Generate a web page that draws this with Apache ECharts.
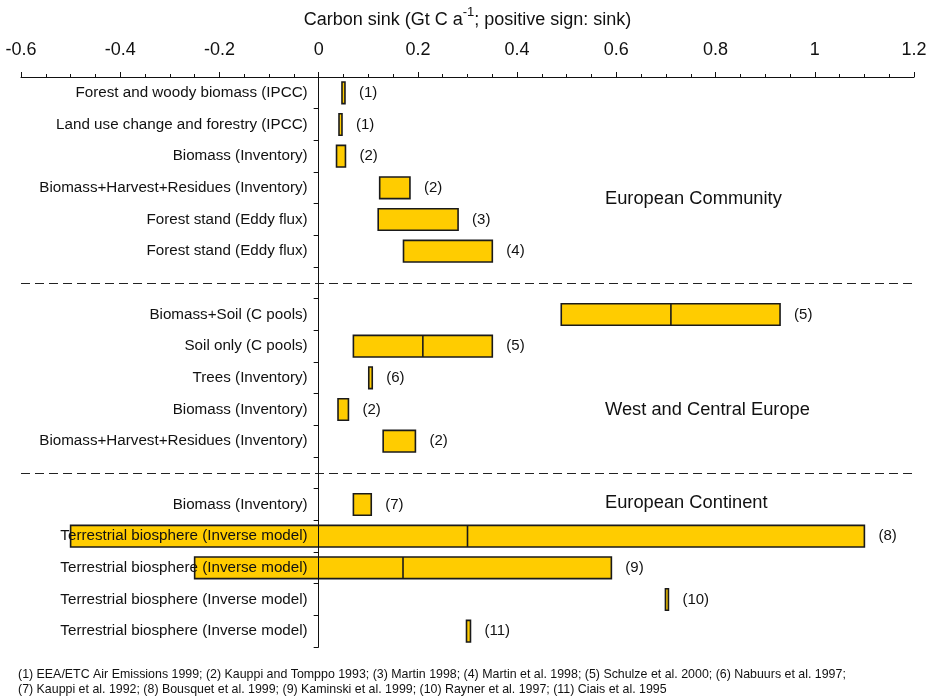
<!DOCTYPE html>
<html lang="en">
<head>
    <meta charset="UTF-8">
    <title>Carbon sink</title>
    <script src="https://cdn.jsdelivr.net/npm/echarts@6/dist/echarts.min.js"></script>
</head>
<body style="margin:0;background:#fff">
 <div id="myChart" style="width: 933px;height: 696px;"></div>
 <script>
     var FONT = '"Liberation Sans", Arial, Helvetica, sans-serif';

     // rows from top to bottom, '' = spacer row holding a dashed separator
     var categories = [
         'Forest and woody biomass (IPCC)',
         'Land use change and forestry (IPCC)',
         'Biomass (Inventory)',
         'Biomass+Harvest+Residues (Inventory)',
         'Forest stand (Eddy flux)',
         'Forest stand (Eddy flux)',
         '',
         'Biomass+Soil (C pools)',
         'Soil only (C pools)',
         'Trees (Inventory)',
         'Biomass (Inventory)',
         'Biomass+Harvest+Residues (Inventory)',
         '',
         'Biomass (Inventory)',
         'Terrestrial biosphere (Inverse model)',
         'Terrestrial biosphere (Inverse model)',
         'Terrestrial biosphere (Inverse model)',
         'Terrestrial biosphere (Inverse model)'
     ];
     // range low / high / central value (Gt C per year), null = none
     var lows  = [0.047, 0.041, 0.036, 0.123, 0.120, 0.171, null, 0.489, 0.070, 0.101, 0.039, 0.130, null, 0.070, -0.50, -0.25, 0.699, 0.298];
     var highs = [0.053, 0.047, 0.054, 0.184, 0.281, 0.350, null, 0.930, 0.350, 0.108, 0.060, 0.195, null, 0.106, 1.10, 0.59, 0.705, 0.306];
     var mids  = [null, null, null, null, null, null, null, 0.71, 0.21, null, null, null, null, null, 0.30, 0.17, null, null];
     var refs  = ['(1)', '(1)', '(2)', '(2)', '(3)', '(4)', '', '(5)', '(5)', '(6)', '(2)', '(2)', '', '(7)', '(8)', '(9)', '(10)', '(11)'];
     var separators = [6, 12]; // spacer row indices
     var regions = ['European Community', 'West and Central Europe', 'European Continent'];
     var footnote = [
         '(1) EEA/ETC Air Emissions 1999; (2) Kauppi and Tomppo 1993; (3) Martin 1998; (4) Martin et al. 1998; (5) Schulze et al. 2000; (6) Nabuurs et al. 1997;',
         '(7) Kauppi et al. 1992; (8) Bousquet et al. 1999; (9) Kaminski et al. 1999; (10) Rayner et al. 1997; (11) Ciais et al. 1995'
     ];

     var data = [];
     for (var i = 0; i < categories.length; i++) {
         if (lows[i] === null) continue;
         data.push([i, lows[i], highs[i], mids[i] === null ? '-' : mids[i]]);
     }

     var GRID_W = 893, X_MIN = -0.6, X_MAX = 1.2;

     function renderItem(params, api) {
         var row = api.value(0);
         var lo = api.coord([api.value(1), row]);
         var hi = api.coord([api.value(2), row]);
         var h = api.size([0, 1])[1] * 0.68;
         var kids = [{
             type: 'rect',
             shape: {x: lo[0], y: lo[1] - h / 2, width: hi[0] - lo[0], height: h},
             style: {fill: '#ffcc00', stroke: '#1a1a1a', lineWidth: 1.6}
         }];
         var mid = api.value(3);
         if (!isNaN(mid)) {
             var m = api.coord([mid, row]);
             kids.push({
                 type: 'line',
                 shape: {x1: m[0], y1: lo[1] - h / 2, x2: m[0], y2: lo[1] + h / 2},
                 style: {stroke: '#1a1a1a', lineWidth: 1.6}
             });
         }
         kids.push({
             type: 'text',
             style: {
                 text: refs[row], x: hi[0] + 14, y: lo[1],
                 verticalAlign: 'middle', fontSize: 15, fill: '#111', fontFamily: FONT
             }
         });
         return {type: 'group', children: kids};
     }

     option = {
         animation: false,
         textStyle: {fontFamily: FONT},
         grid: {left: 21, width: GRID_W, top: 77, height: 570, outerBoundsMode: 'none', containLabel: false},
         xAxis: {
             type: 'value',
             position: 'top',
             min: X_MIN,
             max: X_MAX,
             interval: 0.2,
             name: 'Carbon sink (Gt C a{sup|-1}; positive sign: sink)',
             nameLocation: 'middle',
             nameGap: 42,
             nameTextStyle: {
                 fontSize: 18, color: '#111', fontFamily: FONT,
                 rich: {sup: {fontSize: 13, color: '#111', fontFamily: FONT, padding: [0, 0, 16, 0]}}
             },
             axisLine: {show: true, onZero: false, lineStyle: {color: '#111', width: 1}},
             axisTick: {show: true, length: 5, lineStyle: {color: '#111'}},
             minorTick: {show: true, splitNumber: 4, length: 3, lineStyle: {color: '#111'}},
             splitLine: {show: false},
             axisLabel: {fontSize: 18, color: '#111', margin: 18, fontFamily: FONT}
         },
         yAxis: {
             type: 'category',
             data: categories,
             inverse: true,
             z: 5,
             // category axis sits on x = 0, labels follow it
             offset: -GRID_W * (0 - X_MIN) / (X_MAX - X_MIN),
             axisLine: {show: true, onZero: false, lineStyle: {color: '#111', width: 1}},
             axisTick: {show: true, length: 5, lineStyle: {color: '#111'}},
             splitLine: {show: false},
             axisLabel: {fontSize: 15.2, color: '#111', margin: 11, fontFamily: FONT}
         },
         graphic: [
             {type: 'text', left: 605, top: 190, style: {text: regions[0], fontSize: 18.3, fill: '#111', fontFamily: FONT}},
             {type: 'text', left: 605, top: 401, style: {text: regions[1], fontSize: 18.3, fill: '#111', fontFamily: FONT}},
             {type: 'text', left: 605, top: 494, style: {text: regions[2], fontSize: 18.3, fill: '#111', fontFamily: FONT}},
             {type: 'text', left: 18, top: 667, style: {text: footnote.join('\n'), fontSize: 12.4, lineHeight: 15, fill: '#111', fontFamily: FONT}}
         ],
         series: [{
             type: 'custom',
             renderItem: renderItem,
             encode: {x: [1, 2], y: 0},
             data: data,
             markLine: {
                 silent: true,
                 symbol: 'none',
                 label: {show: false},
                 lineStyle: {type: [9, 5], color: '#222', width: 1.2},
                 data: separators.map(function (r) { return {yAxis: r}; })
             }
         }]
     };
     var myChart = echarts.init(document.getElementById('myChart'));
     myChart.setOption(option);
 </script>
</body>
</html>
